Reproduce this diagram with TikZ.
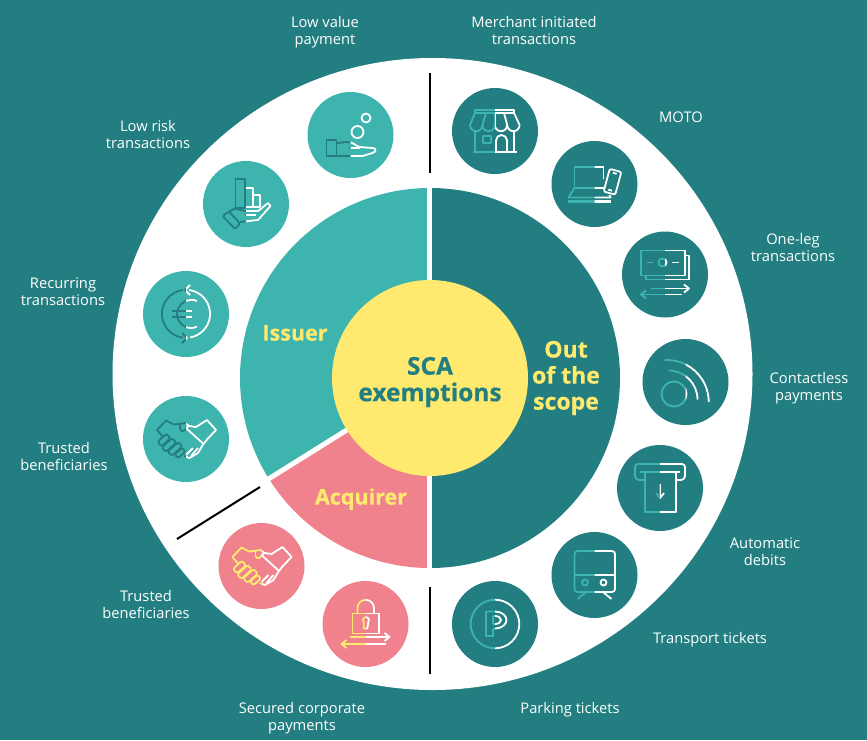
\documentclass[tikz,border=0pt]{standalone}
\usepackage{fontspec}
\setmainfont{Open Sans}
\newfontfamily\heavy[FakeBold=0.5]{Open Sans Bold}
\definecolor{deep}{HTML}{227E80}
\definecolor{teal2}{HTML}{3DB4AD}
\definecolor{sun}{HTML}{FFE96F}
\definecolor{rose}{HTML}{EF828D}
\tikzset{
  lbl/.style={text=white,font=\fontsize{14.7}{17}\selectfont,align=center,inner sep=0pt},
  head/.style={text=sun,font=\fontsize{21.5}{26}\selectfont\heavy,align=center,inner sep=0pt},
  title/.style={text=deep,font=\fontsize{24.5}{26.5}\selectfont\heavy,align=center,inner sep=0pt},
  badge/.style={circle,minimum size=86pt,inner sep=0pt,fill=#1},
  icn/.style={line width=1.8pt,line join=round,line cap=butt},
  sep/.style={black,line width=2pt}
}
% half-coloured icon: left half in #3, right half white
\newcommand{\halficon}[4]{%
  \begin{scope}[shift={(#1,#2)}]
    \begin{scope}\clip (-45,-45) rectangle (0,45);
      \begin{scope}[icn,draw=#3,#3]#4\end{scope}\end{scope}
    \begin{scope}\clip (0,-45) rectangle (45,45);
      \begin{scope}[icn,draw=white,white]#4\end{scope}\end{scope}
  \end{scope}}
\newcommand{\handshake}{%
  \draw (-6,-10) .. controls (-4,-6) and (-1,-8) .. (0,-11) -- (3,-13) -- (10,-12) -- (21,-19) -- (30,-9) -- (21,0.5) -- (17,5.5) -- (12,14) -- (3.5,19) -- (-2,17);
  \draw (-29,-9) -- (-20,-18.5) -- (-12,-14.5) -- (-1,-16) -- (3,-13);
  \draw (-6,-15) -- (-6,-10);
  \draw (-29,-9) -- (-23,-2);
  \draw (0,-11) -- (17,4.5);
  \draw[rounded corners=2pt,rotate around={42:(-22,1)}] (-28,-2) rectangle (-16,4);
  \draw[rounded corners=2pt,rotate around={42:(-17,6)}] (-24,3) rectangle (-10,9);
  \draw[rounded corners=2pt,rotate around={42:(-11,10)}] (-18,7) rectangle (-4,13);
  \draw[rounded corners=2pt,rotate around={42:(-6,14)}] (-11,11.5) rectangle (-1,16.5);
  \draw (0,16) -- (7,9); \draw (5,17) -- (12,9);
}
\begin{document}
\begin{tikzpicture}[x=1pt,y=-1pt]
\useasboundingbox (0,0) rectangle (867,740);
\fill[deep] (0,0) rectangle (867,740);
\fill[white] (432.5,374) ellipse [x radius=320pt,y radius=316pt];
% inner pie
\fill[deep] (430,188) arc[start angle=90,end angle=-90,radius=190pt] -- cycle;
\fill[teal2] (430,378) -- (430,188) arc[start angle=90,end angle=212,radius=190pt] -- cycle;
\fill[rose] (430,378) -- (268.9,478.7) arc[start angle=212,end angle=270,radius=190pt] -- cycle;
\draw[white,line width=5pt] (429.5,180) -- (429.5,575);
\draw[white,line width=5pt] (430,378) -- (262,483);
\node[circle,fill=sun,minimum size=196pt,inner sep=0pt] (core) at (430,378) {};
\node[title] (ttl) at (430,382) {SCA\\exemptions};
\node[head] (iss) at (295,333) {Issuer};
\node[head] (acq) at (361,499) {Acquirer};
\node[head,font=\fontsize{23}{26}\selectfont\heavy] (oos) at (566,378) {Out\\of the\\scope};
% separators
\coordinate (s1a) at (430,73); \coordinate (s1b) at (430,173);
\coordinate (s2a) at (430,587); \coordinate (s2b) at (430,674);
\coordinate (s3a) at (177,539); \coordinate (s3b) at (260,487);
\draw[sep] (s1a) -- (s1b); \draw[sep] (s2a) -- (s2b); \draw[sep] (s3a) -- (s3b);
% badges
\node[badge=teal2] (b1) at (350.5,135) {};
\node[badge=teal2] (b2) at (246,204) {};
\node[badge=teal2] (b3) at (186,314) {};
\node[badge=teal2] (b4) at (186,439) {};
\node[badge=rose] (b5) at (261.5,566) {};
\node[badge=rose] (b6) at (365.5,624) {};
\node[badge=deep] (b7) at (495,131) {};
\node[badge=deep] (b8) at (594.5,184) {};
\node[badge=deep] (b9) at (665,274.5) {};
\node[badge=deep] (b10) at (685.5,382) {};
\node[badge=deep] (b11) at (660,488) {};
\node[badge=deep] (b12) at (594.5,575) {};
\node[badge=deep] (b13) at (495,624) {};
% icons
\halficon{350.5}{135}{deep}{%
  \draw (15.5,-17) circle (4.5); \draw (7,-3) circle (6);
  \draw (-24,5) rectangle (-14,21);
  \draw (-14,8) -- (-3,7) .. controls (3,7) and (5,11) .. (9,12) -- (22,13) .. controls (26,13) and (26,17) .. (22,18) -- (12,21) -- (-14,21);
  \draw (-2,13) -- (9,13);
}
\halficon{246}{204}{deep}{%
  \draw (-10.5,-25) rectangle (-1,4);
  \draw (-1,-16) -- (7,-16) -- (7,3); \draw (7,-9) -- (14,-9) -- (14,3);
  \draw (-1,3) -- (14,3);
  \draw[rounded corners=1.5pt] (-23.5,12) -- (-17,7.5) -- (-6,19.5) -- (-11,25) -- cycle;
  \draw (-17,7.5) -- (-11,4.5) -- (-1,7) -- (12,7) -- (22,-1) -- (24.5,2) -- (12,16) -- (-6,18);
  \draw (-1,11) -- (10,11);
}
\halficon{186}{314}{deep}{%
  \draw (-3,-24) arc[start angle=97,end angle=263,radius=24pt];
  \draw (3,-24) arc[start angle=83,end angle=-80,radius=24pt];
  \draw (4,-29) -- (-1,-24) -- (4,-19);
  \draw (-4,19) -- (1,24) -- (-4,29);
  \draw (5,-14) arc[start angle=90,end angle=270,radius=14pt];
  \draw (11,-13) arc[start angle=65,end angle=90,radius=14pt];
  \draw (5,14) arc[start angle=270,end angle=295,radius=14pt];
  \draw (-14,-3) -- (6,-3); \draw (-14,3) -- (6,3);
}
\halficon{186}{439}{deep}{\handshake}
\halficon{261.5}{566}{sun}{\handshake}
\halficon{365.5}{624}{sun}{%
  \draw (-13,-10.5) rectangle (13.5,9.5);
  \draw (-8,-10.5) -- (-8,-16) arc[start angle=180,end angle=0,radius=8.2pt] -- (8.4,-10.5);
  \draw (-1.8,-2) arc[start angle=220,end angle=-40,radius=3pt] -- (1.8,4.5) -- (-1.8,4.5) -- cycle;
  \draw (-16,13) -- (23,13); \draw (19,9) -- (24,13) -- (19,17);
  \draw (20,20) -- (-23,20); \draw (-19,16) -- (-24,20) -- (-19,24);
}
\halficon{495}{131}{teal2}{%
  \draw (-20,-21) rectangle (19,-18);
  \draw (-20,-18) -- (-25,-6) arc[start angle=180,end angle=360,radius=6.2pt] arc[start angle=180,end angle=360,radius=6.2pt] arc[start angle=180,end angle=360,radius=6.2pt] arc[start angle=180,end angle=360,radius=6.2pt] -- (19,-18);
  \draw (-12.6,-6) -- (-9,-18); \draw (-0.2,-6) -- (-0.2,-18); \draw (12.2,-6) -- (9,-18);
  \draw (-20,0) -- (-20,21); \draw (19,0) -- (19,21);
  \draw (-22,21) -- (22,21);
  \draw (-12,5) rectangle (-4,12);
  \draw (1,21) -- (1,9.5) arc[start angle=180,end angle=0,radius=5.5pt] -- (12,21);
}
\halficon{594.5}{184}{teal2}{%
  \draw (9,-5) -- (9,-17) -- (-20,-17) -- (-20,4) -- (9,4);
  \draw (-20,4) -- (-26,13.5) -- (16,13.5) -- (15,11);
  \draw[line width=2.2pt] (-27,17.5) -- (16,17.5);
  \begin{scope}[rotate around={-15:(18,-2.3)}]
    \draw[rounded corners=2pt] (12,-14) rectangle (24,9.5);
    \draw (16,-11) -- (20,-11); \draw (16,6.5) -- (20,6.5);
  \end{scope}
}
\halficon{665}{274.5}{teal2}{%
  \draw (-24,-24) rectangle (20,1);
  \draw (-19,1) -- (-19,5) -- (24,5) -- (24,-19) -- (20,-19);
  \draw (-2.5,-12) circle (4);
  \draw (-18,-12) -- (-12,-12); \draw (7,-12) -- (14,-12);
  \draw (-14,14) -- (23,14); \draw (19,10) -- (24,14) -- (19,18);
  \draw (17,20) -- (-23,20); \draw (-19,16) -- (-24,20) -- (-19,24);
}
\halficon{685.5}{382}{teal2}{%
  \draw (-11.5,12) circle (12.5);
  \draw (-17,-11.5) arc[start angle=90,end angle=0,radius=29pt];
  \draw (-21,-22) arc[start angle=93,end angle=0,radius=42pt];
}
\halficon{660}{488}{teal2}{%
  \draw (-15,-8) -- (-21,-8) arc[start angle=270,end angle=180,radius=4pt] -- (-25,-21) arc[start angle=180,end angle=90,radius=3pt] -- (22,-24) arc[start angle=90,end angle=0,radius=3pt] -- (25,-12) arc[start angle=0,end angle=-90,radius=4pt] -- (16,-8);
  \draw[line width=2.2pt] (-20,-16) -- (20,-16);
  \draw (-15,-16) -- (-15,24) -- (16,24) -- (16,-16);
  \draw (0,-4) -- (0,10); \draw (-4,5) -- (0,10) -- (4,5);
}
\halficon{594.5}{575}{teal2}{%
  \draw[rounded corners=3pt] (-20,-24) rectangle (20.5,17);
  \draw (-20,0) -- (20.5,0);
  \draw (-9.5,7.5) circle (3); \draw (9,7.5) circle (3);
  \draw (-9,17.5) -- (-17,24); \draw (9,17.5) -- (17,24);
}
\halficon{495}{624}{teal2}{%
  \draw (0,0) circle (24.3);
  \draw (-2,4.5) -- (-2,12) -- (-9,12) -- (-9,-12.5) -- (0,-12.5) arc[start angle=90,end angle=-90,x radius=11.5pt,y radius=8.5pt] -- (-2,4.5);
  \draw (-2,-8) -- (0,-8) arc[start angle=90,end angle=-90,x radius=6pt,y radius=4pt] -- (-2,0) -- cycle;
}
% labels
\node[lbl] (t1) at (325,32) {Low value\\payment};
\node[lbl] (t2) at (534,30.5) {Merchant initiated\\transactions};
\node[lbl] (t3) at (681,117) {MOTO};
\node[lbl] (t4) at (793,247.5) {One-leg\\transactions};
\node[lbl] (t5) at (809,388) {Contactless\\payments};
\node[lbl] (t6) at (765,551.5) {Automatic\\debits};
\node[lbl] (t7) at (710,640) {Transport tickets};
\node[lbl] (t8) at (570,710) {Parking tickets};
\node[lbl] (t9) at (302,718) {Secured corporate\\payments};
\node[lbl] (t10) at (146,604) {Trusted\\beneficiaries};
\node[lbl] (t11) at (64,456.5) {Trusted\\beneficiaries};
\node[lbl] (t12) at (63,291.5) {Recurring\\transactions};
\node[lbl] (t13) at (148,134.5) {Low risk\\transactions};
\end{tikzpicture}
\end{document}
